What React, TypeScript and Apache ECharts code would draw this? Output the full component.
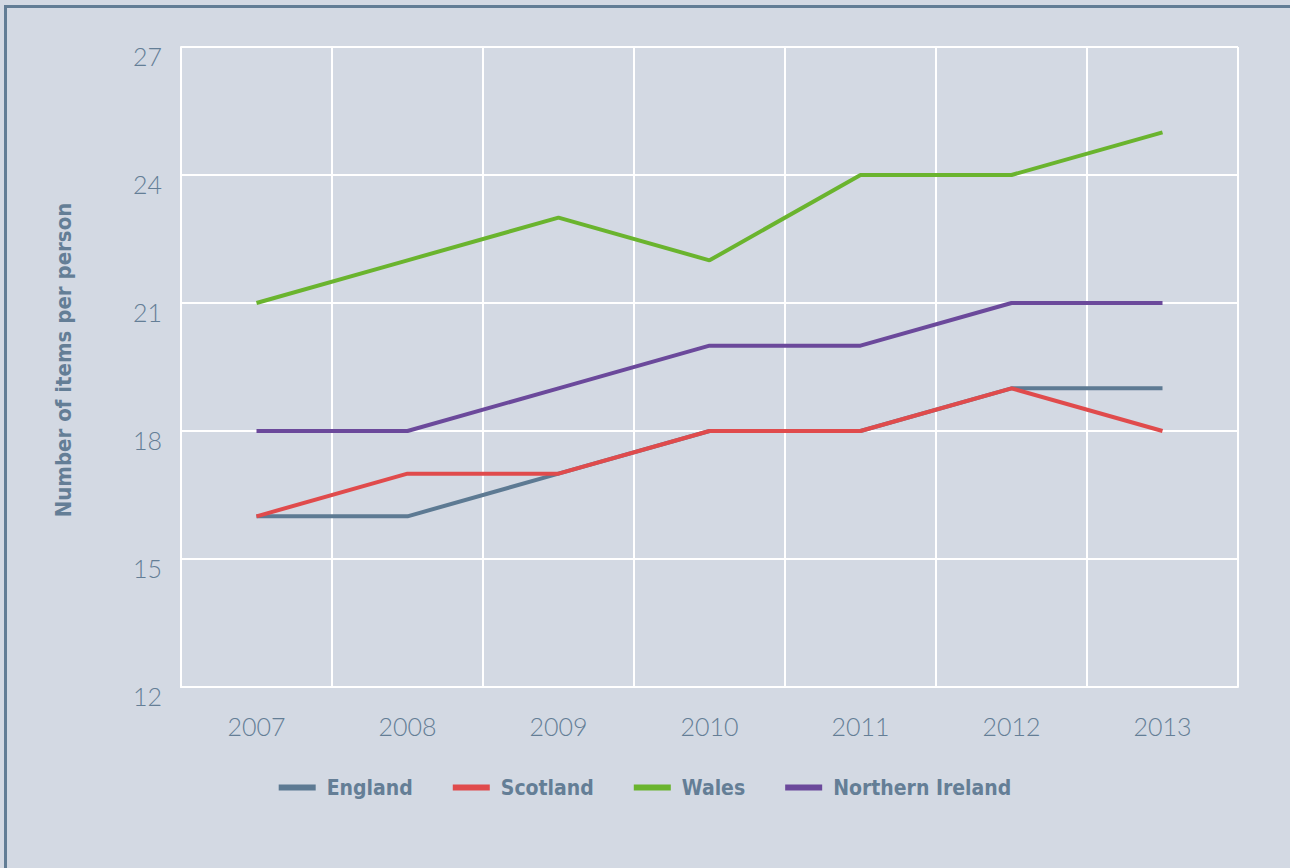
import React, { useEffect, useRef } from "react";
import * as echarts from "echarts";

const years = ["2007", "2008", "2009", "2010", "2011", "2012", "2013"];
const england = [16, 16, 17, 18, 18, 19, 19];
const scotland = [16, 17, 17, 18, 18, 19, 18];
const wales = [21, 22, 23, 22, 24, 24, 25];
const northernIreland = [18, 18, 19, 20, 20, 21, 21];
const seriesNames = ["England", "Scotland", "Wales", "Northern Ireland"];
const seriesColors = ["#5d7a93", "#e04b4c", "#6ab42e", "#6b499b"];
const yTitle = "Number of items per person";

const textColor = "#647e96";
const bg = "#d3d9e3";

export default function App() {
  const ref = useRef<HTMLDivElement>(null);
  useEffect(() => {
    document.body.style.margin = "0";
    const chart = echarts.init(ref.current!, undefined, { renderer: "svg" });
    const data = [england, scotland, wales, northernIreland];
    chart.setOption({
      animation: false,
      backgroundColor: bg,
      grid: { left: 181, right: 52, top: 47, bottom: 181 },
      legend: {
        data: seriesNames,
        left: "center",
        top: 772,
        icon: "rect",
        itemWidth: 37,
        itemHeight: 6,
        itemGap: 40,
        textStyle: {
          color: textColor,
          fontFamily: "DejaVu Sans Condensed",
          fontWeight: "bold",
          fontSize: 21,
          padding: [0, 0, 0, 6],
        },
      },
      xAxis: {
        type: "category",
        data: years,
        boundaryGap: true,
        axisLine: { show: true, lineStyle: { color: "#ffffff", width: 2 } },
        axisTick: { show: false },
        splitLine: { show: true, lineStyle: { color: "#ffffff", width: 2 } },
        axisLabel: {
          color: textColor,
          fontFamily: "Lato",
          fontWeight: 300,
          fontSize: 25,
          margin: 26,
        },
      },
      yAxis: {
        type: "value",
        min: 12,
        max: 27,
        interval: 3,
        axisLine: { show: true, lineStyle: { color: "#ffffff", width: 2 } },
        axisTick: { show: false },
        splitLine: { show: true, lineStyle: { color: "#ffffff", width: 2 } },
        axisLabel: {
          color: textColor,
          fontFamily: "Lato",
          fontWeight: 300,
          fontSize: 25,
          margin: 19,
          verticalAlign: "top",
          lineHeight: 18,
        },
      },
      graphic: [
        { type: "rect", shape: { x: 4, y: 5, width: 1286, height: 3 }, style: { fill: "#627d95" }, z: 100 },
        { type: "rect", shape: { x: 4, y: 5, width: 3, height: 863 }, style: { fill: "#627d95" }, z: 100 },
        {
          type: "text",
          x: 63,
          y: 360,
          rotation: Math.PI / 2,
          style: {
            text: yTitle,
            fill: textColor,
            fontFamily: "DejaVu Sans Condensed",
            fontWeight: "bold",
            fontSize: 22,
            align: "center",
            verticalAlign: "middle",
          },
        },
      ],
      series: seriesNames.map((name, i) => ({
        name,
        type: "line",
        data: data[i],
        symbol: "none",
        lineStyle: { color: seriesColors[i], width: 4 },
        itemStyle: { color: seriesColors[i] },
      })),
    });
    return () => chart.dispose();
  }, []);
  return <div ref={ref} style={{ width: 1290, height: 868 }} />;
}
